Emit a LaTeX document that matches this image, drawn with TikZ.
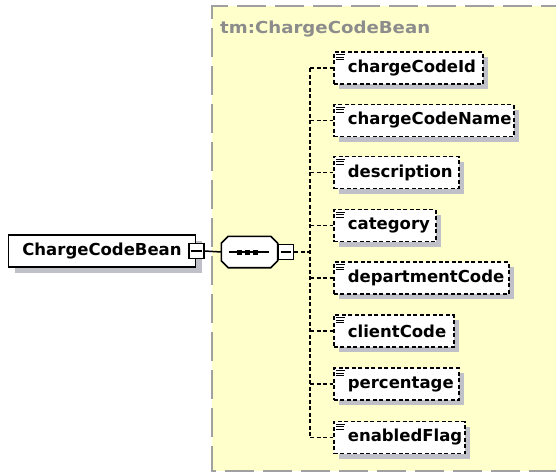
\documentclass[tikz,border=0pt]{standalone}
\usepackage{fontspec}
\setmainfont{DejaVu Sans}
\usetikzlibrary{shadows,calc}
\definecolor{bgyellow}{HTML}{FFFFCC}
\definecolor{shadowgray}{HTML}{C0C0C8}
\definecolor{bordergray}{HTML}{A0A0A0}
\definecolor{titlegray}{HTML}{8C8C8C}
\begin{document}
\begin{tikzpicture}[x=1pt,y=-1pt,
  elem/.style={draw=black, line width=1.7pt, dash pattern=on 4pt off 2.5pt, fill=white,
    minimum height=32pt, inner sep=0pt, anchor=west,
    font=\bfseries\fontsize{16.5}{19}\selectfont,
    drop shadow={shadow xshift=5pt, shadow yshift=-5pt, fill=shadowgray, opacity=1, draw=none}},
  mainbox/.style={draw=black, line width=1.6pt, fill=white, minimum width=187pt,
    minimum height=32pt, inner sep=0pt, font=\bfseries\fontsize{16.5}{19}\selectfont,
    drop shadow={shadow xshift=6pt, shadow yshift=-6pt, fill=shadowgray, opacity=1, draw=none}},
  minusbox/.style={draw=black, line width=1.4pt, fill=white, minimum size=15pt, inner sep=0pt},
  seqframe/.style={minimum width=56pt, minimum height=31pt, inner sep=0pt},
  conn/.style={draw=black, line width=1.7pt, dash pattern=on 4pt off 2.5pt},
  solidconn/.style={draw=black, line width=1.5pt},
  icon/.style={draw=black, line width=1pt},
  titletext/.style={text=titlegray, font=\bfseries\fontsize{16.5}{19}\selectfont, anchor=west, inner sep=0pt}
]
\useasboundingbox (0,0) rectangle (556,472);
\clip (0,0) rectangle (556,472);
\fill[white] (0,0) rectangle (556,472);
% background group
\fill[bgyellow] (212,6) rectangle (570,471);
\draw[bordergray, line width=2pt, dash pattern=on 29pt off 9pt] (570,6) -- (212,6) -- (212,471) -- (570,471);
\node[titletext] (title) at (220,29) {\scalebox{1.1}[1]{tm:ChargeCodeBean}};

% root element
\node[mainbox] (root) at (102,251) {ChargeCodeBean};
\node[minusbox] (m1) at (root.east) {};
\draw[solidconn] ($(m1.west)+(3,0)$) -- ($(m1.east)+(-3,0)$);

% sequence compositor (octagon)
\node[seqframe] (seq) at (249.5,252) {};
\fill[shadowgray, shift={(5,5)}]
  ($(seq.north west)+(7,0)$) -- ($(seq.north east)+(-7,0)$) -- ($(seq.north east)+(0,7)$) --
  ($(seq.south east)+(0,-7)$) -- ($(seq.south east)+(-7,0)$) -- ($(seq.south west)+(7,0)$) --
  ($(seq.south west)+(0,-7)$) -- ($(seq.north west)+(0,7)$) -- cycle;
\filldraw[fill=white, draw=black, line width=1.6pt]
  ($(seq.north west)+(7,0)$) -- ($(seq.north east)+(-7,0)$) -- ($(seq.north east)+(0,7)$) --
  ($(seq.south east)+(0,-7)$) -- ($(seq.south east)+(-7,0)$) -- ($(seq.south west)+(7,0)$) --
  ($(seq.south west)+(0,-7)$) -- ($(seq.north west)+(0,7)$) -- cycle;
\node[minusbox, anchor=west] (m2) at (seq.east) {};
\draw[solidconn] ($(m2.west)+(3,0)$) -- ($(m2.east)+(-3,0)$);
\draw[solidconn] ($(seq.center)+(-21,0)$) -- ($(seq.center)+(19,0)$);
\foreach \dx in {-10,-2,6} {
  \fill[black] ($(seq.center)+(\dx-2.5,-2.5)$) rectangle ++(5,5);
}
\draw[solidconn] (m1.east) -- (seq.west);

\coordinate (sp) at (310,252);
\draw[conn] (m2.east) -- (sp);

% child elements
\foreach \name/\txt/\y/\w in {
  e1/chargeCodeId/68/149,
  e2/chargeCodeName/120.5/180,
  e3/description/172.5/125,
  e4/category/225.5/102,
  e5/departmentCode/278/175,
  e6/clientCode/331/120,
  e7/percentage/384/125,
  e8/enabledFlag/437.5/131} {
  \node[elem] (\name) at (333,\y) {\makebox[\w pt][l]{\hspace{14pt}\txt}};
  \draw[icon] ($(\name.north west)+(3,3.5)$) -- ++(9,0);
  \draw[icon] ($(\name.north west)+(3,6)$) -- ++(8,0);
  \draw[icon] ($(\name.north west)+(3,8.5)$) -- ++(8,0);
  \draw[conn] (sp |- \name.west) -- (\name.west);
}
\draw[conn] (sp |- e1.west) -- (sp |- e8.west);
\end{tikzpicture}
\end{document}
